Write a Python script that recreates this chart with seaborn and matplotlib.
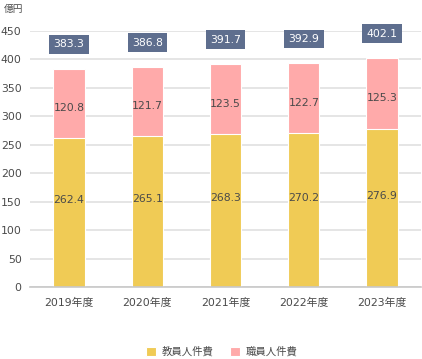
import matplotlib.pyplot as plt
import seaborn as sns
import pandas as pd

years = ["2019年度", "2020年度", "2021年度", "2022年度", "2023年度"]
teachers = [262.4, 265.1, 268.3, 270.2, 276.9]
staff = [120.8, 121.7, 123.5, 122.7, 125.3]
totals = [383.3, 386.8, 391.7, 392.9, 402.1]

sns.set_theme(style="white")
plt.rcParams["font.family"] = ["DejaVu Sans", "Noto Sans CJK JP"]

yellow = "#F0CB55"
pink = "#FFAAAA"
box = "#5E6E8E"
txt = "#4A4A4A"

df = pd.DataFrame({"year": years, "teachers": teachers, "staff": staff, "total": totals})

fig = plt.figure(figsize=(4.22, 3.59), dpi=100)
ax = fig.add_axes([0.071, 0.2006, 0.927, 0.713])

sns.barplot(data=df, x="year", y="total", color=pink, width=0.4,
            edgecolor="white", linewidth=0.8, saturation=1, ax=ax, label="職員人件費")
sns.barplot(data=df, x="year", y="teachers", color=yellow, width=0.4,
            edgecolor="white", linewidth=0.8, saturation=1, ax=ax, label="教員人件費")

for i, row in df.iterrows():
    ax.text(i, row["teachers"] / 2 + 22, f"{row['teachers']:.1f}", ha="center", va="center",
            fontsize=7.8, color=txt)
    ax.text(i, row["teachers"] + row["staff"] / 2 - 8, f"{row['staff']:.1f}", ha="center",
            va="center", fontsize=7.8, color=txt)
    ax.text(i, row["total"] + 43, f"{row['total']:.1f}", ha="center", va="center",
            fontsize=7.8, color="white", clip_on=False,
            bbox=dict(boxstyle="square,pad=0.4", fc=box, ec="none"))

ax.set_ylim(0, 450)
ax.set_xlim(-0.5, 4.5)
ax.set_yticks(range(0, 451, 50))
ax.yaxis.grid(True, color="#E0E0E0", linewidth=1.2)
ax.set_axisbelow(True)
for s in ["top", "right", "left"]:
    ax.spines[s].set_visible(False)
ax.spines["bottom"].set_color("#C8C8C8")
ax.spines["bottom"].set_linewidth(1.2)
ax.tick_params(axis="both", length=0, labelsize=7.8, colors=txt)
ax.tick_params(axis="x", pad=8)
ax.tick_params(axis="y", pad=6)
ax.set_xlabel("")
ax.set_ylabel("")

fig.text(0.008, 0.988, "億円", fontsize=7, color=txt, va="top", ha="left")

handles, labels = ax.get_legend_handles_labels()
if ax.get_legend() is not None:
    ax.get_legend().remove()
order = [labels.index("教員人件費"), labels.index("職員人件費")]
fig.legend([handles[k] for k in order], [labels[k] for k in order],
           loc="center", bbox_to_anchor=(0.525, 0.02), ncol=2, frameon=False,
           fontsize=7.5, handlelength=1.0, handleheight=1.0, columnspacing=1.6,
           handletextpad=0.5, labelcolor=txt)

fig.savefig("out.png", dpi=100)
